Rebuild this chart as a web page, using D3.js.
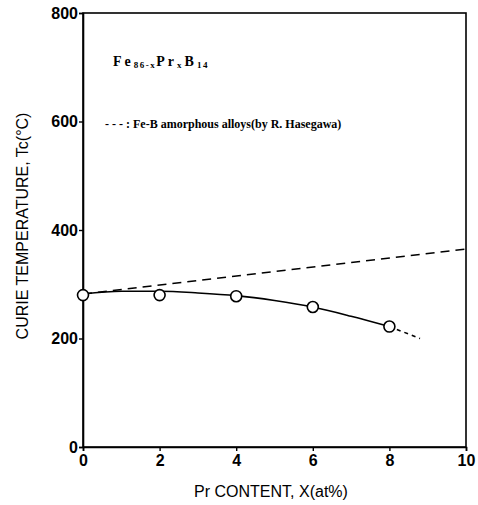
<!DOCTYPE html>
<html><head><meta charset="utf-8">
<script src="https://cdn.jsdelivr.net/npm/d3@7"></script>
<style>body{margin:0;background:#fff}svg{display:block}</style>
</head><body>
<script>
// Data
const xTicks = [0, 2, 4, 6, 8, 10];
const yTicks = [0, 200, 400, 600, 800];
const measuredX = [0, 2, 4, 6, 8];
const measuredTc = [280, 280, 278, 258, 222];
const fitX = [0, 1, 2, 3, 4, 5, 6, 7, 8];
const fitTc = [282, 287, 287, 284, 279, 270, 258, 241, 222];
const extX = [8, 8.8];
const extTc = [222, 200];
const hasegawaX = [0, 10];
const hasegawaTc = [282, 365];

const W = 478, H = 505;
const svg = d3.select("body").append("svg").attr("width", W).attr("height", H);
const x = d3.scaleLinear().domain([0, 10]).range([83, 466]);
const y = d3.scaleLinear().domain([0, 800]).range([447, 13]);

const font = "'Liberation Sans', Arial, sans-serif";

// frame
svg.append("rect").attr("x", x(0)).attr("y", y(800)).attr("width", x(10) - x(0)).attr("height", y(0) - y(800))
  .attr("fill", "none").attr("stroke", "#000").attr("stroke-width", 1.6);

// axes
const xAxis = svg.append("g").attr("transform", `translate(0,${y(0)})`)
  .call(d3.axisBottom(x).tickValues(xTicks).tickSize(4).tickPadding(4).tickFormat(d3.format("d")));
const yAxis = svg.append("g").attr("transform", `translate(${x(0)},0)`)
  .call(d3.axisLeft(y).tickValues(yTicks).tickSize(4).tickPadding(1).tickFormat(d3.format("d")));
[xAxis, yAxis].forEach(g => {
  g.select(".domain").attr("stroke-width", 1.6);
  g.selectAll(".tick line").attr("stroke-width", 1.4);
  g.selectAll("text").attr("font-family", font).attr("font-size", 16).attr("font-weight", "bold").attr("fill", "#000");
});

// Hasegawa dashed line
const line = d3.line().x(d => x(d[0])).y(d => y(d[1]));
svg.append("path").datum(hasegawaX.map((v, i) => [v, hasegawaTc[i]]))
  .attr("d", line).attr("fill", "none").attr("stroke", "#000").attr("stroke-width", 1.6).attr("stroke-dasharray", "9,6");

// fitted curve
const curve = d3.line().x(d => x(d[0])).y(d => y(d[1])).curve(d3.curveMonotoneX);
svg.append("path").datum(fitX.map((v, i) => [v, fitTc[i]]))
  .attr("d", curve).attr("fill", "none").attr("stroke", "#000").attr("stroke-width", 1.6);
svg.append("path").datum(extX.map((v, i) => [v, extTc[i]]))
  .attr("d", line).attr("fill", "none").attr("stroke", "#000").attr("stroke-width", 1.6).attr("stroke-dasharray", "4,4");

// points
svg.selectAll("circle.pt").data(measuredX.map((v, i) => [v, measuredTc[i]])).enter().append("circle")
  .attr("class", "pt").attr("cx", d => x(d[0])).attr("cy", d => y(d[1])).attr("r", 5.5)
  .attr("fill", "#fff").attr("stroke", "#000").attr("stroke-width", 1.6);

// formula
const serif = "'Liberation Serif', 'Times New Roman', serif";
const f = svg.append("text").attr("x", 113).attr("y", 66).attr("font-family", serif).attr("font-weight", "bold")
  .attr("font-size", 14).attr("letter-spacing", 3).attr("fill", "#000");
f.append("tspan").text("Fe");
f.append("tspan").attr("font-size", 9).attr("letter-spacing", 1.5).attr("dy", 2).text("86-x");
f.append("tspan").attr("dy", -2).text("Pr");
f.append("tspan").attr("font-size", 9).attr("dy", 2).text("x");
f.append("tspan").attr("dy", -2).text("B");
f.append("tspan").attr("font-size", 9).attr("letter-spacing", 1.5).attr("dy", 2).text("14");

// legend
svg.append("text").attr("x", 105).attr("y", 128).attr("font-family", serif).attr("font-weight", "bold")
  .attr("font-size", 12).attr("fill", "#000").text("- - - : Fe-B amorphous alloys(by R. Hasegawa)");

// axis titles
svg.append("text").attr("x", 271).attr("y", 497).attr("text-anchor", "middle").attr("font-family", font)
  .attr("font-size", 16).attr("fill", "#000").text("Pr CONTENT, X(at%)");
svg.append("text").attr("transform", `translate(28,226) rotate(-90)`).attr("text-anchor", "middle").attr("font-family", font)
  .attr("font-size", 16).attr("fill", "#000").text("CURIE TEMPERATURE, Tc(°C)");
</script>
</body></html>
